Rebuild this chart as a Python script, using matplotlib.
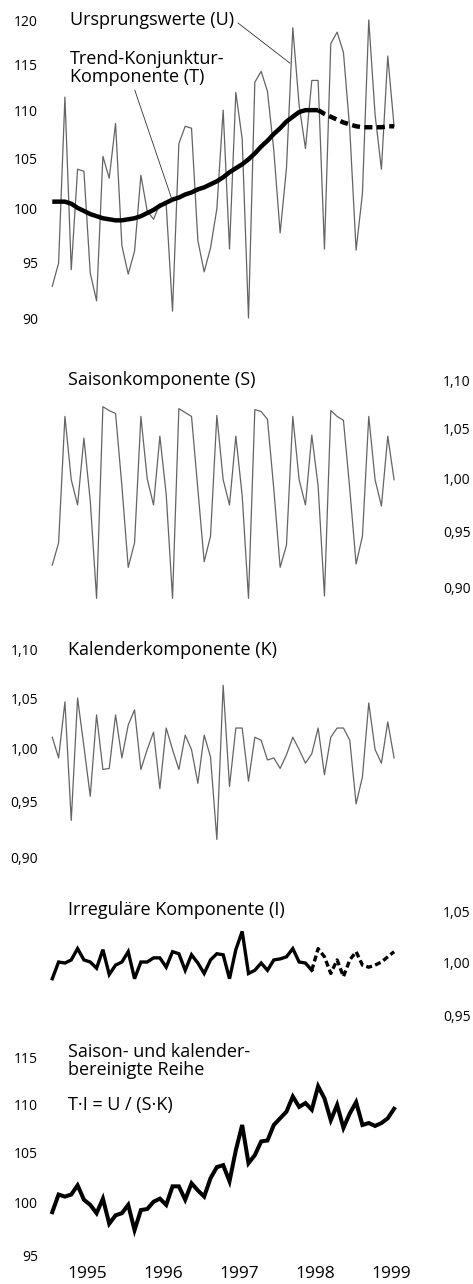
import numpy as np
import matplotlib
matplotlib.use("Agg")
from matplotlib import pyplot as plt
import matplotlib.ticker as mtick

plt.rcParams['font.family'] = ['Open Sans', 'DejaVu Sans']

# monthly values Jan 1995 .. Jul 1999 (55 months)
years = [1995, 1996, 1997, 1998, 1999]
months = np.arange(55)
split = 42   # from here on trend and irregular part are provisional (dashed)

# Ursprungswerte (U)
U = [92.8, 94.9, 111.4, 94.3, 103.9, 103.7, 94.0, 91.5, 105.2, 103.0, 108.6, 96.5,
     93.9, 96.0, 103.3, 99.8, 99.0, 100.5, 100.4, 90.6, 106.5, 108.3, 108.1, 97.0,
     94.1, 96.3, 100.0, 110.0, 96.2, 111.9, 107.0, 90.0, 113.0, 114.2, 112.0, 105.8,
     97.7, 104.0, 119.1, 110.5, 106.0, 113.2, 113.2, 96.2, 117.3, 118.6, 116.3, 108.0,
     96.1, 101.5, 120.0, 109.5, 103.9, 115.9, 108.3]
# Trend-Konjunktur-Komponente (T)
T = [100.7, 100.7, 100.7, 100.5, 100.1, 99.8, 99.5, 99.3, 99.1, 99.0, 98.9, 98.9,
     99.0, 99.1, 99.3, 99.6, 99.9, 100.3, 100.6, 100.9, 101.1, 101.4, 101.6, 101.9,
     102.1, 102.4, 102.7, 103.1, 103.6, 104.0, 104.4, 104.9, 105.5, 106.2, 106.8, 107.5,
     108.1, 108.8, 109.3, 109.8, 110.0, 110.0, 110.0, 109.6, 109.3, 109.0, 108.7, 108.5,
     108.3, 108.2, 108.2, 108.2, 108.2, 108.3, 108.3]
# Saisonkomponente (S)
S = [0.920, 0.940, 1.062, 0.999, 0.975, 1.040, 0.979, 0.891, 1.072, 1.068, 1.065, 0.993,
     0.918, 0.940, 1.062, 1.000, 0.975, 1.042, 0.985, 0.891, 1.070, 1.066, 1.062, 0.990,
     0.923, 0.946, 1.063, 0.999, 0.975, 1.042, 0.984, 0.891, 1.069, 1.067, 1.059, 0.990,
     0.918, 0.938, 1.062, 0.999, 0.975, 1.043, 0.993, 0.893, 1.068, 1.062, 1.058, 0.990,
     0.921, 0.946, 1.062, 0.999, 0.974, 1.042, 0.999]
# Kalenderkomponente (K)
K = [1.011, 0.991, 1.046, 0.933, 1.050, 1.002, 0.955, 1.033, 0.980, 0.981, 1.033, 0.991,
     1.023, 1.038, 0.980, 0.999, 1.016, 0.962, 1.020, 0.999, 0.980, 1.013, 0.999, 0.967,
     1.013, 0.992, 0.916, 1.063, 0.964, 1.020, 1.020, 0.969, 1.011, 1.008, 0.989, 0.991,
     0.981, 0.994, 1.011, 0.999, 0.986, 0.995, 1.020, 0.975, 1.011, 1.020, 1.020, 1.008,
     0.948, 0.973, 1.045, 0.999, 0.986, 1.026, 0.991]
# Irregulaere Komponente (I)
I = [0.984, 1.000, 0.999, 1.002, 1.013, 1.002, 1.000, 0.994, 1.012, 0.988, 0.997, 1.000,
     1.010, 0.984, 1.000, 1.000, 1.004, 1.004, 0.995, 1.010, 1.008, 0.992, 1.007, 0.999,
     0.989, 1.002, 1.008, 1.007, 0.984, 1.012, 1.030, 0.989, 0.992, 0.999, 0.992, 1.002,
     1.003, 1.005, 1.013, 1.000, 0.999, 0.992, 1.013, 1.005, 0.989, 1.002, 0.986, 1.002,
     1.010, 0.997, 0.995, 0.997, 1.000, 1.005, 1.010]
# saison- und kalenderbereinigte Reihe (T*I)
TI = [99.1, 100.8, 100.6, 100.8, 101.7, 100.3, 99.8, 99.0, 100.4, 98.0, 98.8, 99.0,
      99.8, 97.4, 99.3, 99.4, 100.1, 100.4, 99.8, 101.6, 101.6, 100.3, 101.9, 101.2,
      100.6, 102.4, 103.5, 103.7, 102.1, 105.2, 107.8, 103.9, 104.7, 106.1, 106.2, 107.8,
      108.5, 109.2, 110.8, 109.7, 110.1, 109.4, 111.9, 110.6, 108.3, 109.9, 107.5, 109.0,
      110.2, 107.8, 108.0, 107.7, 108.0, 108.5, 109.5]

ticks_U = [90, 95, 100, 105, 110, 115, 120]
ticks_S = [0.90, 0.95, 1.00, 1.05, 1.10]
ticks_I = [0.95, 1.00, 1.05]
ticks_TI = [95, 100, 105, 110, 115]

t = 1995 + (months + 0.5) / 12.

W, H = 473., 1284.
PX_LN = 1036.          # pixels per unit of ln(value), same in every panel
X0, X1 = 45., 400.
GRAY = '#646464'
FS = 13
TS = 10

def t_at(px):
    return 1995 + (px - 49.1) / 75.96

def comma(v, pos):
    return ('%.2f' % v).replace('.', ',')

fig = plt.figure(figsize=(W / 100, H / 100), dpi=100)

def panel(top, bottom, vref, yref, ticks, side, fmt):
    ax = fig.add_axes([X0 / W, 1 - bottom / H, (X1 - X0) / W, (bottom - top) / H])
    ax.patch.set_visible(False)
    ax.set_yscale('log')
    ax.set_ylim(vref * np.exp(-(bottom - yref) / PX_LN), vref * np.exp((yref - top) / PX_LN))
    ax.set_xlim(t_at(X0), t_at(X1))
    for s in ax.spines.values():
        s.set_visible(False)
    ax.yaxis.set_major_locator(mtick.FixedLocator(ticks))
    ax.yaxis.set_minor_locator(mtick.NullLocator())
    ax.yaxis.set_major_formatter(mtick.FuncFormatter(fmt))
    ax.set_xticks([])
    if side == 'right':
        ax.yaxis.tick_right()
        ax.tick_params(axis='y', length=0, pad=31, labelsize=TS)
    else:
        ax.tick_params(axis='y', length=0, pad=5, labelsize=TS)
    return ax

intfmt = lambda v, pos: '%d' % round(v)

# Ursprungswerte and trend
ax1 = panel(10, 325, 120, 20, ticks_U, 'left', intfmt)
ax1.plot(t, U, color=GRAY, lw=0.9)
ax1.plot(t[:split + 1], T[:split + 1], color='black', lw=3.2, solid_capstyle='butt')
ax1.plot(t[split:], T[split:], color='black', lw=3.2, ls=(0, (1.8, 1.0)))
ax1.annotate('Ursprungswerte (U)', xy=(t_at(290), 115.1), xytext=(70, H - 20),
             textcoords='figure pixels', ha='left', va='center', fontsize=FS,
             arrowprops=dict(arrowstyle='-', lw=0.6, color='#333333', shrinkA=1, shrinkB=0,
                             relpos=(1, 0.5)))
ax1.annotate('Trend-Konjunktur-\nKomponente (T)', xy=(t_at(172), 100.9), xytext=(70, H - 68),
             textcoords='figure pixels', ha='left', va='center', fontsize=FS, linespacing=1.0,
             arrowprops=dict(arrowstyle='-', lw=0.6, color='#333333', shrinkA=1, shrinkB=0,
                             relpos=(0.41, 0)))

# Saisonkomponente
ax2 = panel(372, 605, 1.10, 380, ticks_S, 'right', comma)
ax2.plot(t, S, color=GRAY, lw=0.9)
fig.text(68 / W, 1 - 380 / H, 'Saisonkomponente (S)', ha='left', va='center', fontsize=FS)

# Kalenderkomponente
ax3 = panel(640, 865, 1.05, 698, ticks_S, 'left', comma)
ax3.plot(t, K, color=GRAY, lw=0.9)
fig.text(68 / W, 1 - 650 / H, 'Kalenderkomponente (K)', ha='left', va='center', fontsize=FS)

# irregulaere Komponente
ax4 = panel(900, 1022, 1.00, 962, ticks_I, 'right', comma)
ax4.plot(t[:split], I[:split], color='black', lw=2.4, solid_joinstyle='miter')
ax4.plot(t[split - 1:], I[split - 1:], color='black', lw=2.4, ls=(0, (1.8, 1.0)))
fig.text(68 / W, 1 - 910 / H, 'Irreguläre Komponente (I)', ha='left', va='center', fontsize=FS)

# bereinigte Reihe
ax5 = panel(1045, 1262, 115, 1058, ticks_TI, 'left', intfmt)
ax5.plot(t, TI, color='black', lw=2.9, solid_joinstyle='miter')
ax5.set_xticks([y + 0.5 for y in years])
ax5.set_xticklabels([str(y) for y in years])
ax5.tick_params(axis='x', length=0, pad=3, labelsize=12.5)
fig.text(68 / W, 1 - 1061 / H, 'Saison- und kalender-\nbereinigte Reihe', ha='left',
         va='center', fontsize=FS, linespacing=0.95)
fig.text(68 / W, 1 - 1105 / H, 'T·I = U / (S·K)', ha='left', va='center', fontsize=FS)

plt.savefig('out.png', dpi=100)
